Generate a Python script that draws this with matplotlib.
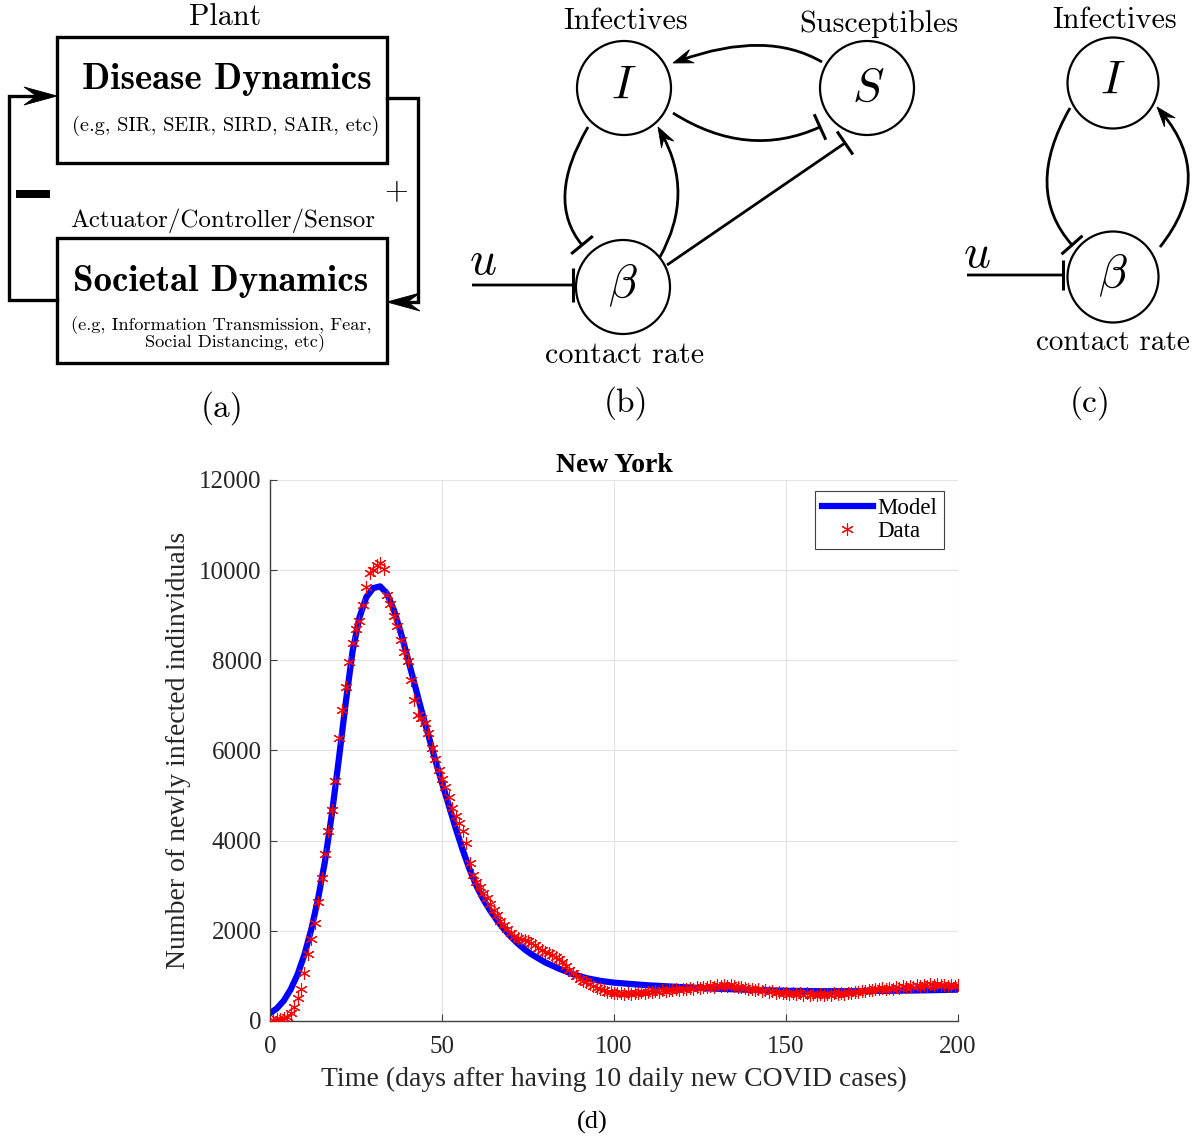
import numpy as np
import matplotlib
matplotlib.use('Agg')
import matplotlib.pyplot as plt
from matplotlib.patches import Circle, Rectangle, Polygon, PathPatch
from matplotlib.path import Path

plt.rcParams['mathtext.fontset'] = 'cm'

# ---- panel (d) data: New York daily new cases
data_days = np.arange(1, 201)
data_cases = [
    30, 35, 45, 60, 90, 180, 300, 510, 720, 1070,
    1490, 1810, 2170, 2640, 3170, 3710, 4220, 4690, 5320, 6285,
    6900, 7415, 7957, 8392, 8696, 8880, 9228, 9635, 9932, 10005,
    10115, 10153, 10027, 9450, 9243, 8990, 8762, 8452, 8192, 7986,
    7564, 7120, 6788, 6715, 6604, 6382, 6055, 5810, 5568, 5368,
    5184, 4976, 4732, 4548, 4400, 4222, 3956, 3498, 3239, 3090,
    2966, 2846, 2722, 2595, 2462, 2351, 2225, 2130, 2034, 1945,
    1880, 1840, 1810, 1800, 1770, 1740, 1690, 1620, 1580, 1540,
    1500, 1460, 1430, 1380, 1310, 1220, 1120, 1060, 990, 940,
    890, 860, 830, 780, 740, 700, 680, 650, 640, 630,
    620, 610, 600, 620, 600, 630, 610, 640, 620, 650,
    640, 660, 650, 680, 660, 690, 680, 700, 690, 720,
    710, 730, 720, 750, 730, 760, 750, 780, 760, 790,
    770, 800, 780, 790, 770, 760, 750, 740, 720, 710,
    690, 700, 670, 680, 650, 660, 630, 640, 610, 630,
    600, 620, 590, 610, 580, 610, 570, 600, 570, 590,
    570, 600, 580, 610, 590, 620, 600, 630, 620, 650,
    640, 670, 660, 690, 680, 710, 700, 730, 710, 740,
    720, 750, 740, 770, 750, 780, 760, 790, 770, 800,
    780, 810, 790, 810, 790, 800, 780, 800, 770, 790,
]
model_days = [0, 2, 4, 6, 8, 10, 12, 14, 16, 18, 20, 22, 24, 26, 28, 30, 32, 34,
              36, 38, 40, 42, 44, 46, 48, 50, 52, 54, 56, 58, 60, 62, 64, 66, 68,
              70, 72, 74, 76, 78, 80, 84, 88, 92, 96, 100, 110, 120, 130, 140,
              150, 160, 170, 180, 190, 200]
model_cases = [170, 280, 450, 700, 1030, 1470, 2030, 2720, 3550, 4600, 5800, 7050,
               8200, 8950, 9400, 9600, 9640, 9480, 9120, 8620, 8060, 7480, 6900,
               6350, 5800, 5280, 4780, 4270, 3800, 3370, 3000, 2700, 2450, 2230,
               2040, 1870, 1720, 1590, 1480, 1390, 1300, 1160, 1040, 950, 890,
               850, 790, 750, 715, 690, 670, 660, 660, 670, 680, 695]

fig = plt.figure(figsize=(12, 11.4), dpi=100)

# overlay in pixel coordinates for the diagrams
dg = fig.add_axes([0, 0, 1, 1])
dg.set_xlim(0, 1200)
dg.set_ylim(1140, 0)
dg.axis('off')

RM = 'cmr10'
BF = 'cmb10'
LBL = 21.7


def txt(x, y, s, size, family=RM, **kw):
    dg.text(x, y, s, fontsize=size, family=family, ha='center', va='center', **kw)


def stealth(tip, d, L=20, W=7):
    d = np.asarray(d, float)
    d = d / np.hypot(*d)
    n = np.array([-d[1], d[0]])
    tip = np.asarray(tip, float)
    pts = [tip, tip - L * d + W * n, tip - 0.62 * L * d, tip - L * d - W * n]
    dg.add_patch(Polygon(pts, closed=True, fc='k', ec='k', lw=0.6, zorder=5))


def bar(p, d, h=14, lw=2.2):
    d = np.asarray(d, float)
    d = d / np.hypot(*d)
    n = np.array([-d[1], d[0]])
    a, b = p - h * n, p + h * n
    dg.plot([a[0], b[0]], [a[1], b[1]], color='k', lw=lw, solid_capstyle='butt')


def curve(p0, m, p2, end='bar', h=14):
    p0, m, p2 = (np.asarray(v, float) for v in (p0, m, p2))
    c = 2 * m - (p0 + p2) / 2
    d = p2 - c
    stop = p2 - 8 * d / np.hypot(*d) if end == 'arrow' else p2
    path = Path([p0, c, stop], [Path.MOVETO, Path.CURVE3, Path.CURVE3])
    dg.add_patch(PathPatch(path, fc='none', ec='k', lw=2.0))
    if end == 'arrow':
        stealth(p2, d, 20, 7)
    else:
        bar(p2, d, h)


# ---------------- panel (a)
dg.add_patch(Rectangle((57, 37), 330, 126, fill=False, lw=2.4, ec='k'))
dg.add_patch(Rectangle((57, 238), 330, 125, fill=False, lw=2.4, ec='k'))
txt(225, 17, 'Plant', LBL)
txt(227, 79, 'Disease Dynamics', 26.5, family=BF)
txt(226, 126, '(e.g, SIR, SEIR, SIRD, SAIR, etc)', 14.6)
txt(223, 221, 'Actuator/Controller/Sensor', 18)
txt(221, 281, 'Societal Dynamics', 26.5, family=BF)
txt(221, 325, '(e.g, Information Transmission, Fear,', 13.2)
txt(235, 342, 'Social Distancing, etc)', 13.2)
txt(222, 408, '(a)', 24)
# feedback loop
dg.plot([57, 9, 9, 40], [300, 300, 96, 96], color='k', lw=2.4, solid_joinstyle='miter')
stealth((57, 96), (1, 0), 33, 9)
dg.plot([387, 418, 418, 400], [98, 98, 302, 302], color='k', lw=2.4, solid_joinstyle='miter')
stealth((387, 302), (-1, 0), 33, 9)
dg.add_patch(Rectangle((16, 190), 34, 8, fc='k', ec='none'))
txt(396, 191, '+', 22)

# ---------------- panel (b)
for cx, cy in [(624, 88), (867, 88), (623, 287)]:
    dg.add_patch(Circle((cx, cy), 47, fill=False, lw=1.6, ec='k'))
txt(624, 86, r'$I$', 34)
txt(868, 89, r'$S$', 34)
txt(623, 285, r'$\beta$', 34)
txt(626, 21, 'Infectives', LBL)
txt(879, 24, 'Susceptibles', LBL)
txt(625, 355, 'contact rate', LBL)
txt(626, 403, '(b)', 24)
txt(483, 262, r'$u$', 34)
curve((822, 62), (757, 46), (673, 63), 'arrow')
curve((673, 113), (747, 140), (820, 127), 'bar')
curve((667, 265), (756, 204), (845, 143), 'bar')
curve((588, 127), (565, 193), (582, 245), 'bar')
curve((660, 257), (677, 193), (658, 127), 'arrow')
curve((472, 285), (522, 285), (573, 285), 'bar', h=17)

# ---------------- panel (c)
for cx, cy in [(1113, 83), (1113, 277)]:
    dg.add_patch(Circle((cx, cy), 45.5, fill=False, lw=1.6, ec='k'))
txt(1113, 81, r'$I$', 34)
txt(1113, 275, r'$\beta$', 34)
txt(1115, 20, 'Infectives', LBL)
txt(1113, 343, 'contact rate', 21)
txt(1090, 403, '(c)', 24)
txt(977, 255, r'$u$', 34)
curve((1070, 108), (1047, 183), (1072, 245), 'bar')
curve((1160, 247), (1187, 177), (1157, 107), 'arrow')
curve((967, 275), (1015, 275), (1063, 275), 'bar', h=15)

# ---------------- panel (d)
SERIF = 'Liberation Serif'
ax = fig.add_axes([0.225, 0.1044, 0.5733, 0.4746])
ax.plot(model_days, model_cases, color=(0, 0, 1), lw=4.5, label='Model', zorder=2)
ax.plot(data_days, data_cases, ls='none', marker=(6, 2, 0), ms=9, mec=(1, 0, 0),
        mew=0.8, label='Data', zorder=3)
ax.set_xlim(0, 200)
ax.set_ylim(0, 12000)
ax.set_xticks(np.arange(0, 201, 50))
ax.set_yticks(np.arange(0, 12001, 2000))
ax.grid(True, color='#e3e3e3', lw=0.8)
ax.set_axisbelow(True)
for s in ['top', 'right']:
    ax.spines[s].set_visible(False)
for s in ['left', 'bottom']:
    ax.spines[s].set_color('#404040')
    ax.spines[s].set_linewidth(1.0)
ax.tick_params(direction='in', length=5, width=0.8, color='#404040',
               labelsize=18, labelcolor='#262626', pad=6)
ax.tick_params(axis='x', pad=11)
for lab in ax.get_xticklabels() + ax.get_yticklabels():
    lab.set_family(SERIF)
ax.set_xlabel('Time (days after having 10 daily new COVID cases)', fontsize=20,
              family=SERIF, color='#262626', labelpad=6)
ax.set_ylabel('Number of newly infected indinviduals', fontsize=20,
              family=SERIF, color='#262626', labelpad=6)
ax.set_title('New York', fontsize=20, family=SERIF, fontweight='bold', pad=6)
leg = ax.legend(loc='upper right', bbox_to_anchor=(0.9797, 0.9797), borderaxespad=0,
                fancybox=False, edgecolor='#404040', framealpha=1, numpoints=1,
                prop={'family': SERIF, 'size': 16.5}, handlelength=2.2,
                handletextpad=0.2, borderpad=0.3, labelspacing=0.1)
leg.get_frame().set_linewidth(0.8)
fig.text(592 / 1200, 1 - 1122 / 1140, '(d)', fontsize=19, family=SERIF,
         ha='center', va='center')

fig.savefig('out.png', dpi=100)
